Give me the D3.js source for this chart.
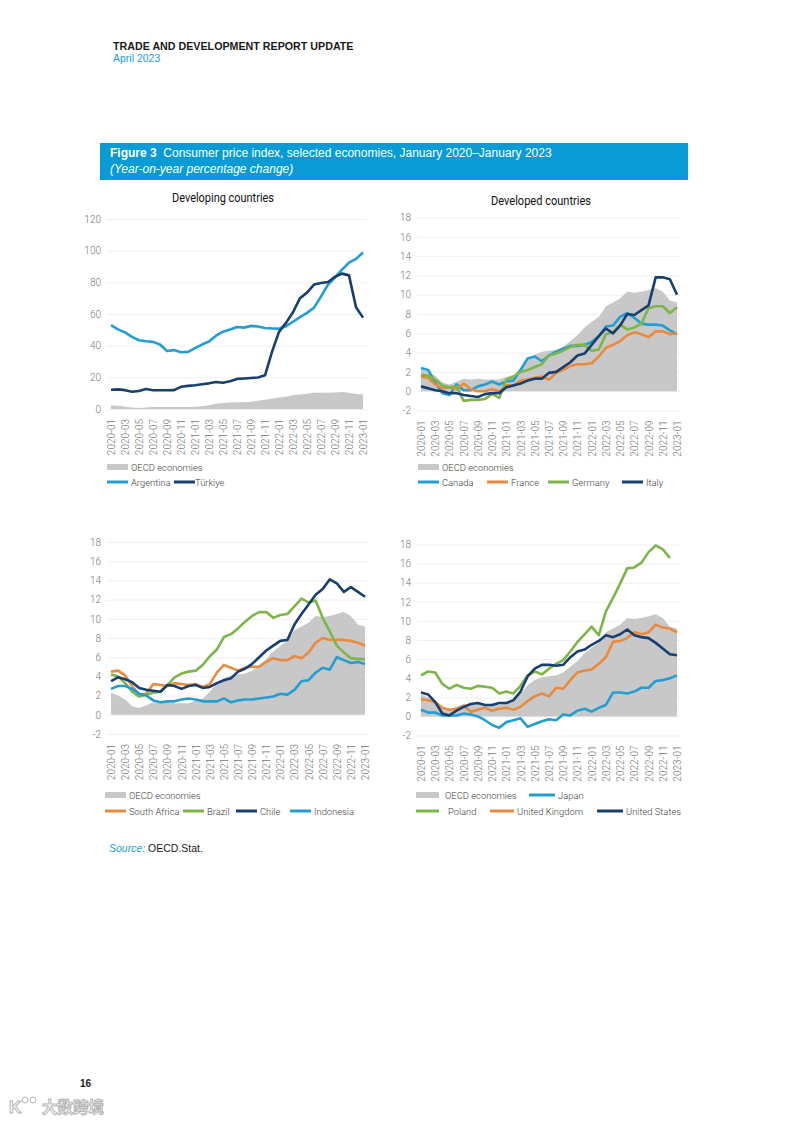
<!DOCTYPE html>
<html>
<head>
<meta charset="utf-8">
<script src="https://cdn.jsdelivr.net/npm/d3@7"></script>
<style>
  html, body { margin: 0; padding: 0; background: #fff; }
  svg { display: block; }
  .tick text { font-family: Roboto, sans-serif; }
</style>
</head>
<body>
<div id="page"></div>
<script>
const months = ["2020-01","2020-02","2020-03","2020-04","2020-05","2020-06","2020-07","2020-08","2020-09","2020-10","2020-11","2020-12",
  "2021-01","2021-02","2021-03","2021-04","2021-05","2021-06","2021-07","2021-08","2021-09","2021-10","2021-11","2021-12",
  "2022-01","2022-02","2022-03","2022-04","2022-05","2022-06","2022-07","2022-08","2022-09","2022-10","2022-11","2022-12",
  "2023-01"];
const monthTicks = months.filter((m, i) => i % 2 === 0);

const oecd = [2.3,2.0,1.6,0.9,0.7,1.0,1.3,1.2,1.3,1.2,1.2,1.2, 1.5,1.7,2.4,3.3,3.8,4.1,4.2,4.3,4.6,5.2,5.8,6.6, 7.2,7.7,8.8,9.2,9.6,10.3,10.2,10.3,10.5,10.7,10.3,9.4, 9.2];

// developing
const argentina = [52.9,50.3,48.4,45.6,43.4,42.8,42.4,40.7,36.6,37.2,35.8,36.1, 38.5,40.7,42.6,46.3,48.8,50.2,51.8,51.4,52.5,52.1,51.2,50.9, 50.7,52.3,55.1,58.0,60.7,64.0,71.0,78.5,83.0,88.0,92.4,94.8, 98.8];
const turkiye = [12.2,12.4,11.9,10.9,11.4,12.6,11.8,11.8,11.8,11.9,14.0,14.6, 15.0,15.6,16.2,17.1,16.6,17.5,19.0,19.3,19.6,19.9,21.3,36.1, 48.7,54.4,61.1,70.0,73.5,78.6,79.6,80.2,83.5,85.5,84.4,64.3, 57.7];

// developed
const canada = [2.4,2.2,0.9,-0.2,-0.4,0.7,0.1,0.1,0.5,0.7,1.0,0.7, 1.0,1.1,2.2,3.4,3.6,3.1,3.7,4.1,4.4,4.7,4.7,4.8, 5.1,5.7,6.7,6.8,7.7,8.1,7.6,7.0,6.9,6.9,6.8,6.3, 5.9];
const france = [1.5,1.4,0.7,0.3,0.4,0.2,0.8,0.2,0.0,0.0,0.2,0.0, 0.6,0.6,1.1,1.2,1.4,1.5,1.2,1.9,2.2,2.6,2.8,2.8, 2.9,3.6,4.5,4.8,5.2,5.8,6.1,5.9,5.6,6.2,6.2,5.9, 6.0];
const germany = [1.7,1.6,1.2,0.6,0.4,0.5,-1.0,-0.9,-0.9,-0.8,-0.3,-0.7, 1.2,1.5,2.0,2.2,2.5,2.8,3.7,3.9,4.2,4.6,4.8,4.8, 4.2,4.3,5.9,6.1,6.9,6.4,6.6,7.0,8.6,8.8,8.8,8.1, 8.7];
const italy = [0.5,0.3,0.1,0.0,-0.2,-0.2,-0.4,-0.5,-0.6,-0.3,-0.2,-0.2, 0.4,0.6,0.8,1.1,1.3,1.3,1.9,2.0,2.5,3.0,3.7,3.9, 4.8,5.7,6.5,6.0,6.8,8.0,7.9,8.4,8.9,11.8,11.8,11.6, 10.0];

// emerging
const southAfrica = [4.5,4.6,4.1,3.0,2.1,2.2,3.2,3.1,3.0,3.3,3.2,3.1, 3.2,2.9,3.2,4.4,5.2,4.9,4.6,4.9,5.0,5.0,5.5,5.9, 5.7,5.7,6.1,5.9,6.5,7.5,8.0,7.8,7.8,7.8,7.7,7.5, 7.2];
const brazil = [4.2,4.0,3.3,2.4,1.9,2.1,2.3,2.4,3.1,3.9,4.3,4.5, 4.6,5.2,6.1,6.8,8.1,8.4,9.0,9.7,10.3,10.7,10.7,10.1, 10.4,10.5,11.3,12.1,11.7,11.9,10.1,8.7,7.2,6.5,5.9,5.8, 5.8];
const chile = [3.5,3.9,3.7,3.4,2.8,2.6,2.5,2.4,3.1,3.0,2.7,3.0, 3.1,2.8,2.9,3.3,3.6,3.8,4.5,4.8,5.3,6.0,6.7,7.2, 7.7,7.8,9.4,10.5,11.5,12.5,13.1,14.1,13.7,12.8,13.3,12.8, 12.3];
const indonesia = [2.7,3.0,3.0,2.7,2.2,2.0,1.5,1.3,1.4,1.4,1.6,1.7, 1.6,1.4,1.4,1.4,1.7,1.3,1.5,1.6,1.6,1.7,1.8,1.9, 2.2,2.1,2.6,3.5,3.6,4.4,4.9,4.7,6.0,5.7,5.4,5.5, 5.3];

// others
const japan = [0.7,0.4,0.4,0.1,0.1,0.1,0.3,0.2,0.0,-0.4,-0.9,-1.2, -0.6,-0.4,-0.2,-1.1,-0.8,-0.5,-0.3,-0.4,0.2,0.1,0.6,0.8, 0.5,0.9,1.2,2.5,2.5,2.4,2.6,3.0,3.0,3.7,3.8,4.0, 4.3];
const poland = [4.3,4.7,4.6,3.4,2.9,3.3,3.0,2.9,3.2,3.1,3.0,2.4, 2.6,2.4,3.2,4.3,4.7,4.4,5.0,5.5,5.9,6.8,7.8,8.6, 9.4,8.5,11.0,12.4,13.9,15.5,15.6,16.1,17.2,17.9,17.5,16.6, null];
const unitedKingdom = [1.8,1.7,1.5,0.9,0.7,0.8,1.1,0.5,0.7,0.9,0.6,0.8, 0.9,0.7,1.0,1.6,2.1,2.4,2.1,3.0,2.9,3.8,4.6,4.8, 4.9,5.5,6.2,7.8,7.9,8.2,8.8,8.6,8.8,9.6,9.3,9.2, 8.8];
const unitedStates = [2.5,2.3,1.5,0.3,0.1,0.6,1.0,1.3,1.4,1.2,1.2,1.4, 1.4,1.7,2.6,4.2,5.0,5.4,5.4,5.3,5.4,6.2,6.8,7.0, 7.5,7.9,8.5,8.3,8.6,9.1,8.5,8.3,8.2,7.7,7.1,6.5, 6.4];

const LIGHT = "#219ed3", NAVY = "#173f70", ORANGE = "#ea8a3c", GREEN = "#7db648", GREY = "#c8c8c8";

const panels = [
  { x0: 111, x1: 363, yTop: 219, yBot: 409, domain: [0, 120], ticks: d3.range(0, 121, 20),
    title: "Developing countries", titleX: 223, titleY: 202, titleW: 102,
    series: [{ name: "Argentina", data: argentina, color: LIGHT, lx: 107, ly: 482 },
             { name: "Türkiye", data: turkiye, color: NAVY, lx: 174, ly: 482, tx: 195 }],
    oecdLegend: [107, 467] },
  { x0: 421, x1: 677, yTop: 217.5, yBot: 410.5, domain: [-2, 18], ticks: d3.range(-2, 19, 2),
    title: "Developed countries", titleX: 541, titleY: 205, titleW: 100,
    series: [{ name: "Canada", data: canada, color: LIGHT, lx: 418, ly: 482 },
             { name: "France", data: france, color: ORANGE, lx: 487, ly: 482 },
             { name: "Germany", data: germany, color: GREEN, lx: 548, ly: 482 },
             { name: "Italy", data: italy, color: NAVY, lx: 622, ly: 482 }],
    oecdLegend: [418, 467] },
  { x0: 111, x1: 365, yTop: 542, yBot: 734, domain: [-2, 18], ticks: d3.range(-2, 19, 2),
    series: [{ name: "South Africa", data: southAfrica, color: ORANGE, lx: 105, ly: 811 },
             { name: "Brazil", data: brazil, color: GREEN, lx: 183, ly: 811 },
             { name: "Chile", data: chile, color: NAVY, lx: 236, ly: 811 },
             { name: "Indonesia", data: indonesia, color: LIGHT, lx: 290, ly: 811 }],
    oecdLegend: [105, 795] },
  { x0: 421, x1: 677, yTop: 544.5, yBot: 735.5, domain: [-2, 18], ticks: d3.range(-2, 19, 2),
    series: [{ name: "Japan", data: japan, color: LIGHT, lx: 529, ly: 795, w: 26 },
             { name: "Poland", data: poland, color: GREEN, lx: 416, ly: 811, w: 23, tx: 448 },
             { name: "United Kingdom", data: unitedKingdom, color: ORANGE, lx: 490, ly: 811, w: 24 },
             { name: "United States", data: unitedStates, color: NAVY, lx: 597, ly: 811, w: 26 }],
    oecdLegend: [416, 795], oecdW: 23 }
];

const svg = d3.select("#page").append("svg")
  .attr("width", 793).attr("height", 1122);

svg.append("rect").attr("width", 793).attr("height", 1122).attr("fill", "#fff");

// page header
svg.append("text").attr("x", 113).attr("y", 50)
  .style("font-family", "'Liberation Sans', Arial, sans-serif").style("font-size", "10.7px")
  .style("font-weight", "bold").attr("fill", "#1a1a1a")
  .text("TRADE AND DEVELOPMENT REPORT UPDATE");
svg.append("text").attr("x", 113).attr("y", 62)
  .style("font-family", "'Liberation Sans', Arial, sans-serif").style("font-size", "10.5px")
  .attr("fill", "#1a9fd8").text("April 2023");

// figure banner
svg.append("rect").attr("x", 100).attr("y", 143).attr("width", 588).attr("height", 37).attr("fill", "#0a9bd7");
const t1 = svg.append("text").attr("x", 110).attr("y", 157)
  .style("font-family", "'Liberation Sans', Arial, sans-serif").style("font-size", "12px").attr("fill", "#fff");
t1.append("tspan").style("font-weight", "bold").text("Figure 3");
t1.append("tspan").text("\u00a0 Consumer price index, selected economies, January 2020\u2013January 2023");
svg.append("text").attr("x", 110).attr("y", 173)
  .style("font-family", "'Liberation Sans', Arial, sans-serif").style("font-size", "12px")
  .style("font-style", "italic").attr("fill", "#fff")
  .text("(Year-on-year percentage change)");

panels.forEach(p => {
  const x = d3.scalePoint().domain(months).range([p.x0, p.x1]);
  const y = d3.scaleLinear().domain(p.domain).range([p.yBot, p.yTop]);
  const g = svg.append("g");

  if (p.title) {
    g.append("text").attr("x", p.titleX).attr("y", p.titleY).attr("text-anchor", "middle")
      .attr("textLength", p.titleW).attr("lengthAdjust", "spacingAndGlyphs")
      .style("font-family", "Roboto, sans-serif").style("font-size", "12px").style("font-weight", 400)
      .attr("fill", "#111").text(p.title);
  }

  // y axis with gridlines
  const yAxis = g.append("g").attr("transform", `translate(${p.x0 - 4},0)`)
    .call(d3.axisLeft(y).tickValues(p.ticks).tickSize(-(p.x1 - p.x0 + 8)).tickPadding(6).tickFormat(d => String(d)));
  yAxis.select(".domain").remove();
  yAxis.selectAll(".tick line").attr("stroke", "#ececec").attr("stroke-width", 0.8);
  yAxis.selectAll(".tick text").attr("fill", "#777").style("font-size", "10px").style("font-weight", 300);

  // x axis, rotated labels
  const xAxis = g.append("g").attr("transform", `translate(0,${p.yBot})`)
    .call(d3.axisBottom(x).tickValues(monthTicks).tickSize(0).tickPadding(0));
  xAxis.select(".domain").remove();
  xAxis.selectAll(".tick text")
    .attr("transform", "translate(0,10) rotate(-90)")
    .attr("text-anchor", "end").attr("x", 0).attr("y", 0).attr("dy", "0.35em")
    .attr("fill", "#777").style("font-size", "10px").style("font-weight", 300);

  // OECD area
  g.append("path").datum(oecd)
    .attr("fill", GREY)
    .attr("d", d3.area().x((d, i) => x(months[i])).y0(y(0)).y1(d => y(d)));

  const line = d3.line()
    .defined(d => d !== null)
    .x((d, i) => x(months[i])).y(d => y(d));

  p.series.forEach(s => {
    g.append("path").datum(s.data)
      .attr("fill", "none").attr("stroke", s.color).attr("stroke-width", 2.6)
      .attr("stroke-linejoin", "round").attr("d", line);
  });

  // legend
  const lf = t => t.style("font-family", "Roboto, sans-serif").style("font-size", "9.4px")
    .style("font-weight", 300).attr("fill", "#3d3d3d");
  const ow = p.oecdW || 21;
  g.append("rect").attr("x", p.oecdLegend[0]).attr("y", p.oecdLegend[1] - 3)
    .attr("width", ow).attr("height", 6).attr("fill", GREY);
  g.append("text").attr("x", p.oecdLegend[0] + ow + 3 + (p.oecdW ? 3 : 0)).attr("y", p.oecdLegend[1] + 3.5)
    .call(lf).text("OECD economies");
  p.series.forEach(s => {
    const w = s.w || 21;
    g.append("line").attr("x1", s.lx).attr("x2", s.lx + w).attr("y1", s.ly).attr("y2", s.ly)
      .attr("stroke", s.color).attr("stroke-width", 3);
    g.append("text").attr("x", s.tx || s.lx + w + 3).attr("y", s.ly + 3.5).call(lf).text(s.name);
  });
});

// source
const src = svg.append("text").attr("x", 109).attr("y", 852)
  .style("font-family", "'Liberation Sans', Arial, sans-serif").style("font-size", "10.5px");
src.append("tspan").style("font-style", "italic").attr("fill", "#1a9fd8").text("Source:");
src.append("tspan").attr("fill", "#1a1a1a").text(" OECD.Stat.");

// page number
svg.append("text").attr("x", 80).attr("y", 1087)
  .style("font-family", "'Liberation Sans', Arial, sans-serif").style("font-size", "10px")
  .style("font-weight", "bold").attr("fill", "#1a1a1a").text("16");

// watermark
const wm = svg.append("g").attr("fill", "#fff").attr("stroke", "#b5b5b5").attr("stroke-width", 1);
wm.append("text").attr("x", 9).attr("y", 1113)
  .style("font-family", "'Liberation Sans', sans-serif").style("font-size", "17px").style("font-weight", "bold")
  .text("K");
wm.append("circle").attr("cx", 25).attr("cy", 1100).attr("r", 3);
wm.append("circle").attr("cx", 33).attr("cy", 1100).attr("r", 3);
wm.append("text").attr("x", 42).attr("y", 1113)
  .style("font-family", "'Noto Sans CJK SC', sans-serif").style("font-size", "15.5px").style("font-weight", "bold")
  .text("大数跨境");
</script>
</body>
</html>
